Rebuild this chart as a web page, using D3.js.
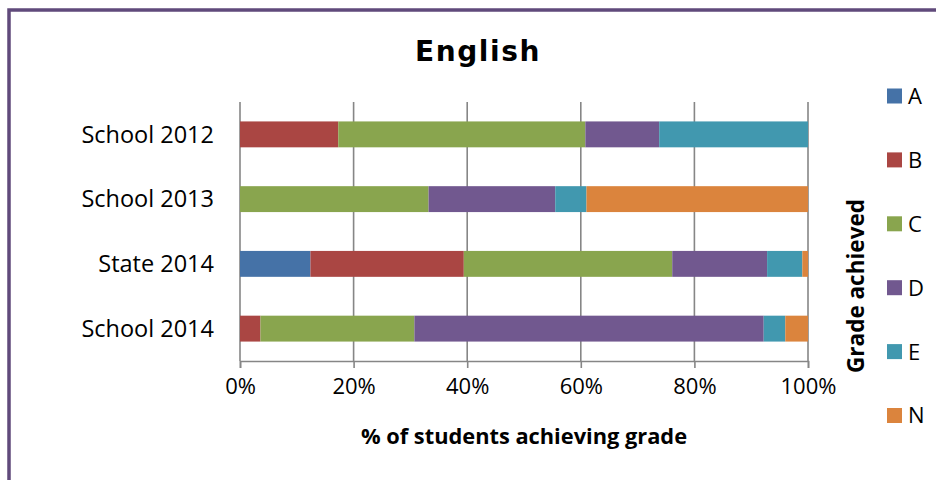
<!DOCTYPE html>
<html>
<head>
<meta charset="utf-8">
<script src="https://cdn.jsdelivr.net/npm/d3@7"></script>
<style>
  body { margin: 0; background: #fff; }
  svg { display: block; }
  text { font-family: "Open Sans", sans-serif; fill: #000; }
</style>
</head>
<body>
<div id="chart"></div>
<script>
// categories, top to bottom
var categories = ["School 2012", "School 2013", "State 2014", "School 2014"];
var grades = ["A", "B", "C", "D", "E", "N"];
var gradeColors = ["#4572A7", "#AA4643", "#89A54E", "#71588F", "#4198AF", "#DB843D"];

// % of students per grade, one value per category
var gradeA = [0, 0, 12.4, 0];
var gradeB = [17.3, 0, 27.0, 3.6];
var gradeC = [43.5, 33.2, 36.7, 27.1];
var gradeD = [13.0, 22.3, 16.7, 61.5];
var gradeE = [26.2, 5.5, 6.2, 3.8];
var gradeN = [0, 39.0, 1.0, 4.0];

var xTicks = [0, 0.2, 0.4, 0.6, 0.8, 1];

var width = 936, height = 480;

var series = [gradeA, gradeB, gradeC, gradeD, gradeE, gradeN];
var rows = categories.map(function(c, i) {
  var r = {cat: c};
  grades.forEach(function(g, j) { r[g] = series[j][i]; });
  return r;
});

var svg = d3.select("#chart").append("svg")
  .attr("width", width).attr("height", height);

// outer frame (runs off the right and bottom edge)
svg.append("rect")
  .attr("x", 9).attr("y", 10)
  .attr("width", 1000).attr("height", 1000)
  .attr("fill", "none")
  .attr("stroke", "#604A7B")
  .attr("stroke-width", 3.5);

var plot = {left: 240, right: 808, top: 102, bottom: 361};

var x = d3.scaleLinear().domain([0, 1]).range([plot.left, plot.right]);
var y = d3.scaleBand().domain(categories)
  .range([plot.top, plot.bottom])
  .paddingInner(0.6).paddingOuter(0.3);

// gridlines
svg.append("g").selectAll("line")
  .data(xTicks)
  .enter().append("line")
  .attr("x1", function(d) { return x(d); })
  .attr("x2", function(d) { return x(d); })
  .attr("y1", plot.top).attr("y2", plot.bottom)
  .attr("stroke", "#868686").attr("stroke-width", 1.6);

// x axis
var xAxis = d3.axisBottom(x).tickValues(xTicks)
  .tickFormat(d3.format(".0%")).tickSize(7).tickPadding(10);
var gx = svg.append("g")
  .attr("transform", "translate(0," + plot.bottom + ")")
  .call(xAxis);
gx.select(".domain").attr("stroke", "#868686").attr("stroke-width", 1.6);
gx.selectAll(".tick line").attr("stroke", "#868686").attr("stroke-width", 1.6);
gx.selectAll(".tick text")
  .style("font-family", "Open Sans, sans-serif")
  .style("font-size", "22px").attr("fill", "#000");

// y labels
svg.append("g").selectAll("text")
  .data(categories)
  .enter().append("text")
  .attr("x", 214)
  .attr("y", function(d) { return y(d) + y.bandwidth() / 2; })
  .attr("dy", "0.35em")
  .attr("text-anchor", "end")
  .style("font-size", "23.5px")
  .text(function(d) { return d; });

// stacked bars
var stack = d3.stack().keys(grades);
var stacked = stack(rows);

svg.append("g").selectAll("g")
  .data(stacked)
  .enter().append("g")
  .attr("fill", function(d, i) { return gradeColors[i]; })
  .selectAll("rect")
  .data(function(d) { return d; })
  .enter().append("rect")
  .attr("x", function(d) { return x(d[0] / 100); })
  .attr("width", function(d) { return x(d[1] / 100) - x(d[0] / 100); })
  .attr("y", function(d) { return y(d.data.cat); })
  .attr("height", y.bandwidth());

// title
svg.append("text")
  .attr("x", 478).attr("y", 61)
  .attr("text-anchor", "middle")
  .style("font-family", "DejaVu Sans, sans-serif")
  .style("font-weight", "bold")
  .style("font-size", "28px")
  .style("letter-spacing", "1.6px")
  .text("English");

// x axis title
svg.append("text")
  .attr("x", 524).attr("y", 444)
  .attr("text-anchor", "middle")
  .style("font-weight", "bold")
  .style("font-size", "21.8px")
  .text("% of students achieving grade");

// legend title (rotated)
svg.append("text")
  .attr("transform", "translate(864,286) rotate(-90)")
  .attr("text-anchor", "middle")
  .style("font-weight", "bold")
  .style("font-size", "22.5px")
  .text("Grade achieved");

// legend
var legend = svg.append("g").selectAll("g")
  .data(grades)
  .enter().append("g")
  .attr("transform", function(d, i) { return "translate(887," + (96 + i * 63.9) + ")"; });

legend.append("rect")
  .attr("x", 0).attr("y", -7.5)
  .attr("width", 15).attr("height", 15)
  .attr("fill", function(d, i) { return gradeColors[i]; });

legend.append("text")
  .attr("x", 21).attr("y", 0)
  .attr("dy", "0.36em")
  .style("font-size", "22px")
  .text(function(d) { return d; });
</script>
</body>
</html>
